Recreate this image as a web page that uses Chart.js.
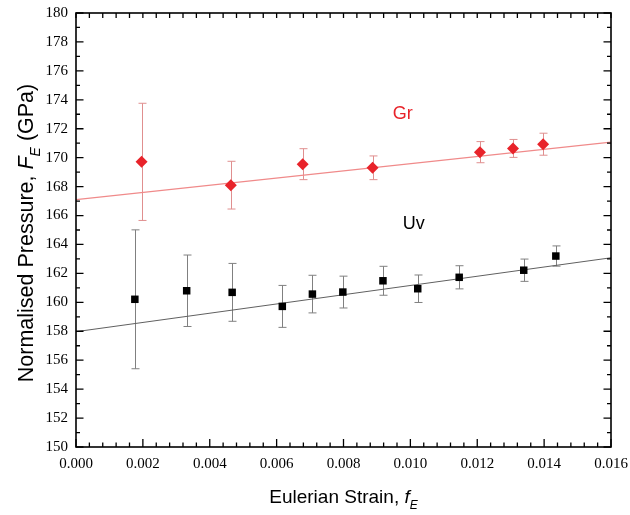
<!DOCTYPE html>
<html>
<head>
<meta charset="utf-8">
<script src="https://cdn.jsdelivr.net/npm/chart.js@4.4.1/dist/chart.umd.min.js"></script>
<style>
  html, body { margin: 0; padding: 0; background: #fff; }
  #wrap { width: 630px; height: 515px; }
</style>
</head>
<body>
<div id="wrap"><canvas id="chart" width="630" height="515"></canvas></div>
<script>
// Gr series (red diamonds)
const grX = [0.00196, 0.00463, 0.00678, 0.00887, 0.01208, 0.01307, 0.01397];
const grY = [169.71, 168.10, 169.55, 169.30, 170.38, 170.64, 170.93];
const grErr = [4.05, 1.65, 1.07, 0.82, 0.73, 0.62, 0.76];

// Uv series (black squares)
const uvX = [0.00176, 0.00331, 0.00467, 0.00617, 0.00707, 0.00798, 0.00918, 0.01022, 0.01146, 0.01339, 0.01435];
const uvY = [160.21, 160.80, 160.69, 159.72, 160.57, 160.71, 161.49, 160.94, 161.73, 162.22, 163.20];
const uvErr = [4.8, 2.47, 2.0, 1.45, 1.3, 1.1, 1.0, 0.95, 0.8, 0.77, 0.7];

// linear fits, read at both ends of the axis
const fitX = [0, 0.016];
const grFitY = [167.10, 171.07];
const uvFitY = [157.97, 163.08];

const xMin = 0, xMax = 0.016, xStep = 0.002, xMinor = 0.0004;
const yMin = 150, yMax = 180, yStep = 2, yMinor = 1;

const RED = "#e8232a";
const SERIF = "15px 'Liberation Serif', 'Times New Roman', serif";

function pts(xs, ys) {
    return xs.map((x, i) => ({ x: x, y: ys[i] }));
}

// error bars, inward ticks, tick labels, axis titles and series labels
const extras = {
    id: "extras",
    beforeDatasetsDraw(chart) {
        const ctx = chart.ctx;
        const xs = chart.scales.x, ys = chart.scales.y;
        function bars(xv, yv, ev, color) {
            ctx.save();
            ctx.strokeStyle = color;
            ctx.lineWidth = 1;
            for (let i = 0; i < xv.length; i++) {
                const px = Math.round(xs.getPixelForValue(xv[i])) + 0.5;
                const top = ys.getPixelForValue(yv[i] + ev[i]);
                const bot = ys.getPixelForValue(yv[i] - ev[i]);
                ctx.beginPath();
                ctx.moveTo(px, top); ctx.lineTo(px, bot);
                ctx.moveTo(px - 4, top); ctx.lineTo(px + 4, top);
                ctx.moveTo(px - 4, bot); ctx.lineTo(px + 4, bot);
                ctx.stroke();
            }
            ctx.restore();
        }
        bars(uvX, uvY, uvErr, "#808080");
        bars(grX, grY, grErr, "#e08f8f");
    },
    afterDraw(chart) {
        const ctx = chart.ctx;
        const a = chart.chartArea;
        const xs = chart.scales.x, ys = chart.scales.y;
        ctx.save();
        ctx.strokeStyle = "#000";
        ctx.lineWidth = 1.3;
        ctx.beginPath();
        // x ticks
        const nx = Math.round((xMax - xMin) / xMinor);
        for (let i = 0; i <= nx; i++) {
            const v = xMin + i * xMinor;
            const px = xs.getPixelForValue(v);
            const major = (i % Math.round(xStep / xMinor)) === 0;
            const len = major ? 8 : 4.5;
            ctx.moveTo(px, a.bottom); ctx.lineTo(px, a.bottom - len);
            ctx.moveTo(px, a.top); ctx.lineTo(px, a.top + 5);
        }
        // y ticks
        const ny = Math.round((yMax - yMin) / yMinor);
        for (let i = 0; i <= ny; i++) {
            const v = yMin + i * yMinor;
            const py = ys.getPixelForValue(v);
            const major = (i % Math.round(yStep / yMinor)) === 0;
            const len = major ? 7.5 : 4;
            ctx.moveTo(a.left, py); ctx.lineTo(a.left + len, py);
            ctx.moveTo(a.right, py); ctx.lineTo(a.right - len, py);
        }
        ctx.stroke();
        ctx.lineWidth = 1.6;
        ctx.strokeRect(a.left, a.top, a.right - a.left, a.bottom - a.top);

        // tick labels from the scales' own ticks
        ctx.fillStyle = "#000";
        ctx.font = SERIF;
        ctx.textAlign = "center";
        ctx.textBaseline = "middle";
        xs.ticks.forEach(t => {
            ctx.fillText(Number(t.value).toFixed(3), xs.getPixelForValue(t.value), a.bottom + 17);
        });
        ctx.textAlign = "right";
        ys.ticks.forEach(t => {
            ctx.fillText(String(t.value), a.left - 8, ys.getPixelForValue(t.value));
        });

        // series labels
        ctx.font = "18px 'Liberation Sans', Arial, sans-serif";
        ctx.textAlign = "center";
        ctx.fillStyle = RED;
        ctx.fillText("Gr", xs.getPixelForValue(0.00977), ys.getPixelForValue(173.05));
        ctx.fillStyle = "#000";
        ctx.fillText("Uv", xs.getPixelForValue(0.0101), ys.getPixelForValue(165.4));

        // axis titles with italic subscripts
        function title(parts, cx, cy, rot) {
            ctx.save();
            ctx.translate(cx, cy);
            ctx.rotate(rot);
            ctx.textAlign = "left";
            ctx.textBaseline = "alphabetic";
            let w = 0;
            parts.forEach(p => { ctx.font = p.f; w += ctx.measureText(p.t).width; });
            let x = -w / 2;
            parts.forEach(p => {
                ctx.font = p.f;
                ctx.fillText(p.t, x, p.dy || 0);
                x += ctx.measureText(p.t).width;
            });
            ctx.restore();
        }
        const sans = "'Liberation Sans', Arial, sans-serif";
        title([
            { t: "Eulerian Strain, ", f: "19px " + sans },
            { t: "f", f: "italic 19px " + sans },
            { t: "E", f: "italic 12px " + sans, dy: 6 }
        ], (a.left + a.right) / 2, 503, 0);
        title([
            { t: "Normalised Pressure, ", f: "21.5px " + sans },
            { t: "F", f: "italic 21.5px " + sans },
            { t: "E", f: "italic 14px " + sans, dy: 7 },
            { t: " (GPa)", f: "21.5px " + sans }
        ], 33, 233, -Math.PI / 2);
        ctx.restore();
    }
};

new Chart(document.getElementById("chart").getContext("2d"), {
    type: "scatter",
    data: {
        datasets: [
            {
                label: "Gr fit",
                data: pts(fitX, grFitY),
                showLine: true,
                borderColor: "#f08a8a",
                borderWidth: 1.2,
                pointRadius: 0,
                order: 3
            },
            {
                label: "Uv fit",
                data: pts(fitX, uvFitY),
                showLine: true,
                borderColor: "#606060",
                borderWidth: 1,
                pointRadius: 0,
                order: 3
            },
            {
                label: "Gr",
                data: pts(grX, grY),
                pointStyle: "rectRot",
                pointRadius: 6,
                backgroundColor: RED,
                borderColor: RED,
                borderWidth: 0,
                order: 1
            },
            {
                label: "Uv",
                data: pts(uvX, uvY),
                pointStyle: "rect",
                pointRadius: 5.3,
                backgroundColor: "#000",
                borderColor: "#000",
                borderWidth: 0,
                order: 1
            }
        ]
    },
    options: {
        responsive: false,
        animation: false,
        devicePixelRatio: 1,
        layout: { padding: { left: 0, top: 13, right: 19, bottom: 0 } },
        plugins: {
            legend: { display: false },
            tooltip: { enabled: false }
        },
        scales: {
            x: {
                type: "linear",
                min: xMin,
                max: xMax,
                grid: { display: false, drawTicks: false },
                border: { display: false },
                ticks: { display: false, stepSize: xStep },
                afterFit: s => { s.height = 68; }
            },
            y: {
                type: "linear",
                min: yMin,
                max: yMax,
                grid: { display: false, drawTicks: false },
                border: { display: false },
                ticks: { display: false, stepSize: yStep },
                afterFit: s => { s.width = 76; }
            }
        }
    },
    plugins: [extras]
});
</script>
</body>
</html>
